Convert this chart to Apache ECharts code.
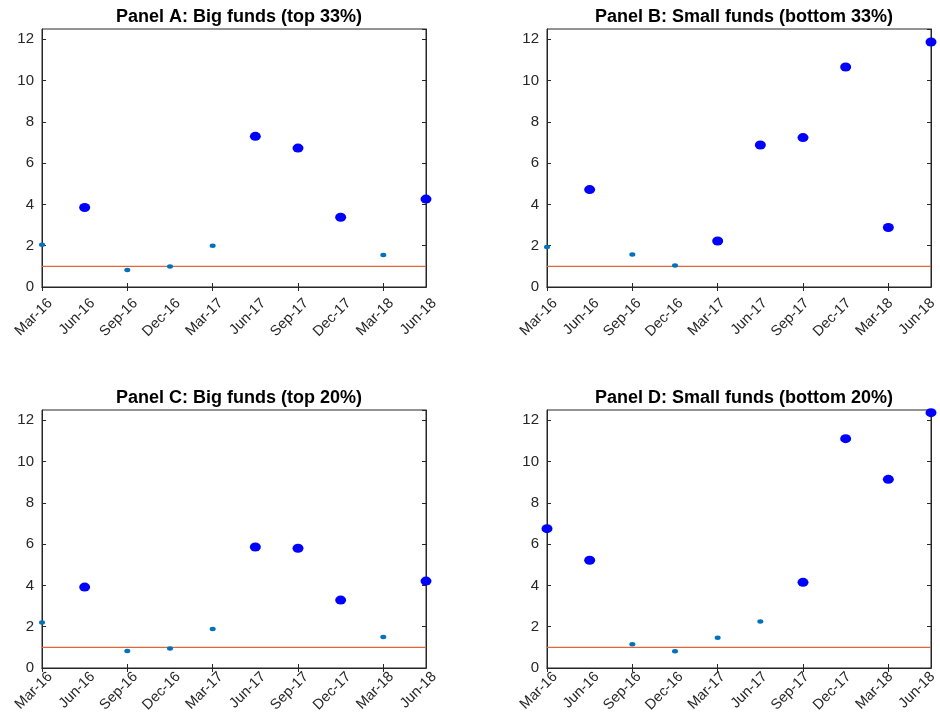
<!DOCTYPE html>
<html>
<head>
<meta charset="utf-8">
<script src="https://cdn.jsdelivr.net/npm/echarts@6/dist/echarts.min.js"></script>
<style>
html,body{margin:0;padding:0;background:#fff;}
#chart{width:940px;height:715px;}
</style>
</head>
<body>
<div id="chart"></div>
<script>
// ---- Data ----
var categories = ['Mar-16','Jun-16','Sep-16','Dec-16','Mar-17','Jun-17','Sep-17','Dec-17','Mar-18','Jun-18'];
var yTicks = [0, 2, 4, 6, 8, 10, 12];
var titles = ['Panel A: Big funds (top 33%)', 'Panel B: Small funds (bottom 33%)',
              'Panel C: Big funds (top 20%)', 'Panel D: Small funds (bottom 20%)'];
var panelA = [2.05, 3.85, 0.82, 0.99, 2.00, 7.30, 6.73, 3.38, 1.55, 4.26];
var sigA   = [0, 1, 0, 0, 0, 1, 1, 1, 0, 1];
var panelB = [1.94, 4.72, 1.58, 1.04, 2.23, 6.88, 7.24, 10.66, 2.88, 11.87];
var sigB   = [0, 1, 0, 0, 1, 1, 1, 1, 1, 1];
var panelC = [2.21, 3.92, 0.82, 0.94, 1.89, 5.86, 5.80, 3.29, 1.50, 4.21];
var sigC   = [0, 1, 0, 0, 0, 1, 1, 1, 0, 1];
var panelD = [6.75, 5.22, 1.15, 0.81, 1.47, 2.25, 4.15, 11.11, 9.14, 12.37];
var sigD   = [1, 1, 0, 0, 0, 0, 1, 1, 1, 1];
var refLine = 1;

var panels = [[panelA, sigA], [panelB, sigB], [panelC, sigC], [panelD, sigD]];

// ---- Layout ----
var gridPos = [
  {left: 42, top: 29},
  {left: 547, top: 29},
  {left: 42, top: 410},
  {left: 547, top: 410}
];
var GW = 384, GH = 258;
var FONT = 'Liberation Sans';
var AX = '#262626';

var option = {
  animation: false,
  backgroundColor: '#ffffff',
  title: [], grid: [], xAxis: [], yAxis: [], series: []
};

gridPos.forEach(function (g, p) {
  var vals = panels[p][0], sig = panels[p][1];
  option.grid.push({left: g.left, top: g.top, width: GW, height: GH, show: true,
    borderColor: AX, borderWidth: 1, backgroundColor: 'transparent'});
  option.grid.push({left: g.left + 8, top: g.top, width: GW, height: GH, show: false});
  var gi = p * 2, li = p * 2 + 1;

  option.title.push({
    text: titles[p], left: g.left + GW / 2, top: g.top - 26, textAlign: 'center',
    textStyle: {fontFamily: FONT, fontWeight: 'bold', fontSize: 18, color: '#000'}
  });

  var xBase = option.xAxis.length;
  option.xAxis.push({
    type: 'category', gridIndex: gi, data: categories, boundaryGap: false, position: 'bottom',
    axisLine: {show: true, lineStyle: {color: AX, width: 1}},
    axisTick: {show: true, inside: true, length: 4, lineStyle: {color: AX}},
    axisLabel: {show: false}, splitLine: {show: false}
  });
  option.xAxis.push({
    type: 'category', gridIndex: gi, data: categories, boundaryGap: false, position: 'top',
    axisLine: {show: true, lineStyle: {color: AX, width: 1}},
    axisTick: {show: true, inside: true, length: 4, lineStyle: {color: AX}},
    axisLabel: {show: false}, splitLine: {show: false}
  });
  option.xAxis.push({
    type: 'category', gridIndex: li, data: categories, boundaryGap: false, position: 'bottom',
    axisLine: {show: false}, axisTick: {show: false}, splitLine: {show: false},
    axisLabel: {show: true, rotate: 45, margin: 14, interval: 0, color: AX,
      fontFamily: FONT, fontSize: 14.5}
  });

  var yBase = option.yAxis.length;
  option.yAxis.push({
    type: 'value', gridIndex: gi, min: 0, max: 12.5, interval: 2, position: 'left',
    axisLine: {show: true, lineStyle: {color: AX, width: 1}},
    axisTick: {show: true, inside: true, length: 4, lineStyle: {color: AX}},
    axisLabel: {show: true, margin: 8, color: AX, fontFamily: FONT, fontSize: 15,
      showMaxLabel: false,
      formatter: function (v) { return yTicks.indexOf(v) >= 0 ? String(v) : ''; }},
    splitLine: {show: false}
  });
  option.yAxis.push({
    type: 'value', gridIndex: gi, min: 0, max: 12.5, interval: 2, position: 'right',
    axisLine: {show: true, lineStyle: {color: AX, width: 1}},
    axisTick: {show: true, inside: true, length: 4, lineStyle: {color: AX}},
    axisLabel: {show: false}, splitLine: {show: false}
  });
  option.yAxis.push({
    type: 'value', gridIndex: li, min: 0, max: 12.5, show: false
  });

  var bigData = [], smallData = [];
  vals.forEach(function (v, i) {
    if (sig[i]) bigData.push([i, v]); else smallData.push([i, v]);
  });

  option.series.push({
    type: 'line', xAxisIndex: xBase, yAxisIndex: yBase,
    data: categories.map(function () { return refLine; }),
    symbol: 'none', showSymbol: false, silent: true, z: 2,
    lineStyle: {color: '#E0673A', width: 1.2, type: 'solid'},
    itemStyle: {color: '#E0673A'}
  });
  option.series.push({
    type: 'scatter', xAxisIndex: xBase, yAxisIndex: yBase, data: smallData,
    symbol: 'circle', symbolSize: [6, 4.5], clip: false, z: 3,
    itemStyle: {color: '#0072BD', opacity: 1}
  });
  option.series.push({
    type: 'scatter', xAxisIndex: xBase, yAxisIndex: yBase, data: bigData,
    symbol: 'circle', symbolSize: [11, 9], clip: false, z: 4,
    itemStyle: {color: '#0000FF', opacity: 1}
  });
});

var chart = echarts.init(document.getElementById('chart'), null, {renderer: 'canvas'});
chart.setOption(option);
</script>
</body>
</html>
